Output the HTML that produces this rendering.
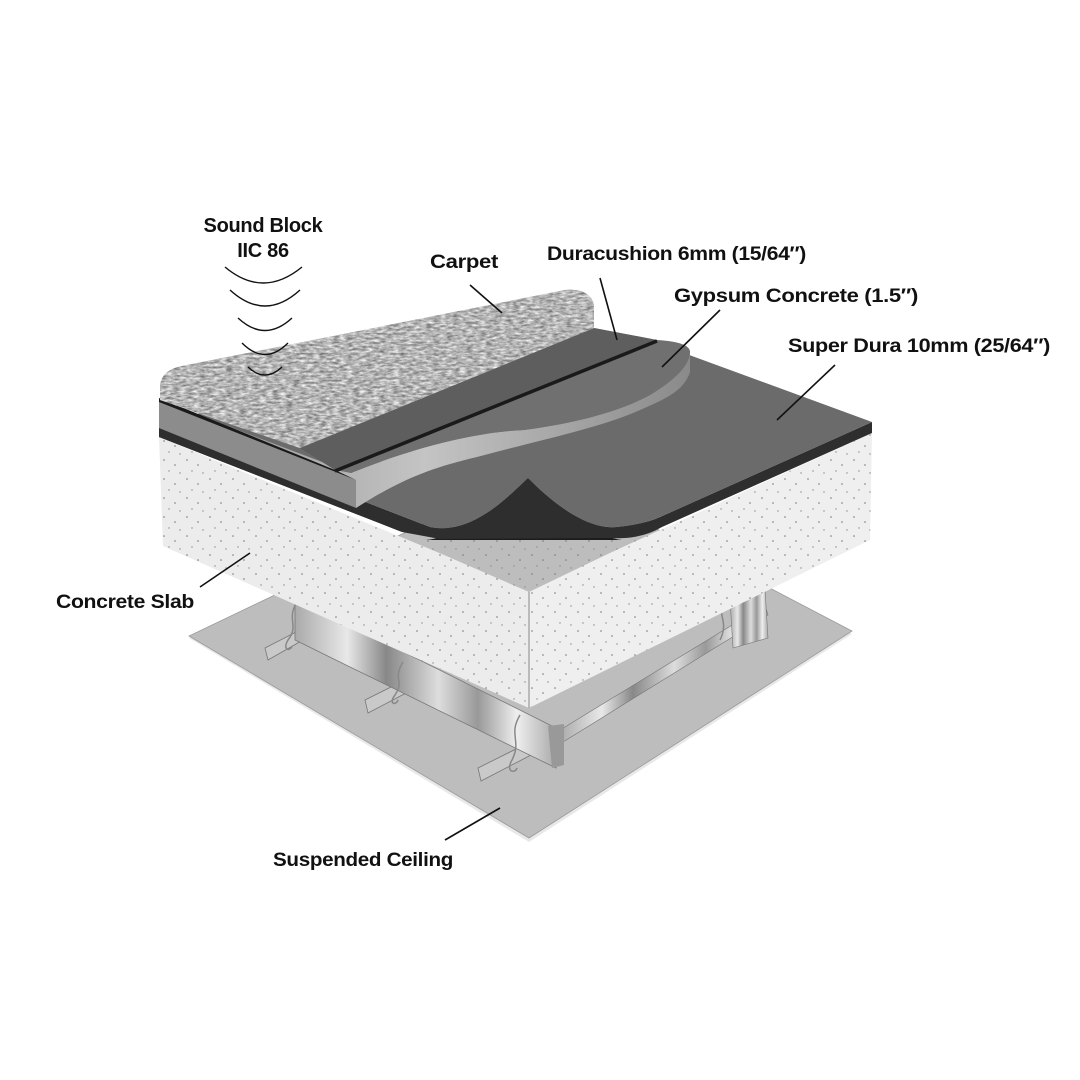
<!DOCTYPE html>
<html><head><meta charset="utf-8"><style>
html,body{margin:0;padding:0;background:#fff}
svg{display:block}
text{font-family:"Liberation Sans",sans-serif;font-weight:bold;font-size:19px;fill:#111;letter-spacing:-0.3px}
</style></head><body>
<svg width="1080" height="1080" viewBox="0 0 1080 1080" xmlns="http://www.w3.org/2000/svg">
<defs>
<pattern id="dots" width="23" height="19" patternUnits="userSpaceOnUse">
<circle cx="3" cy="4" r="0.8" fill="#777"/><circle cx="14" cy="9" r="0.8" fill="#777"/><circle cx="8" cy="15" r="0.7" fill="#888"/><circle cx="19" cy="17" r="0.7" fill="#888"/>
</pattern>
<filter id="fuzz" x="0" y="0" width="1" height="1" color-interpolation-filters="sRGB">
<feTurbulence type="fractalNoise" baseFrequency="0.15 0.45" numOctaves="4" seed="4"/>
<feColorMatrix type="matrix" values="0.75 0 0 0 0.33  0.75 0 0 0 0.33  0.75 0 0 0 0.33  0 0 0 0 1"/>
<feComposite in2="SourceGraphic" operator="in"/>
</filter>
<linearGradient id="steel" x1="0" y1="0" x2="1" y2="0">
<stop offset="0" stop-color="#aaa"/><stop offset="0.2" stop-color="#e8e8e8"/><stop offset="0.35" stop-color="#888"/><stop offset="0.55" stop-color="#ddd"/><stop offset="0.7" stop-color="#999"/><stop offset="0.85" stop-color="#eee"/><stop offset="1" stop-color="#aaa"/>
</linearGradient>
<linearGradient id="gyps" x1="0" y1="0" x2="1" y2="0">
<stop offset="0" stop-color="#8e8e8e"/><stop offset="0.5" stop-color="#c4c4c4"/><stop offset="1" stop-color="#8a8a8a"/>
</linearGradient>
</defs>

<polygon points="189,638 529,842 852,634 540,470" fill="#e8e8e8"/>
<polygon points="189,636 529,838 852,631 540,468" fill="#bdbdbd" stroke="#999" stroke-width="0.8"/>

<polygon points="560,730 765,605 768,615 563,742" fill="url(#steel)" stroke="#777" stroke-width="0.6"/>
<polygon points="730,600 765,590 768,638 733,648" fill="url(#steel)" stroke="#777" stroke-width="0.6"/>
<polygon points="265,648 300,630 303,640 268,660" fill="#c9c9c9" stroke="#777" stroke-width="0.8"/>
<polygon points="365,700 405,680 408,692 368,713" fill="#c9c9c9" stroke="#777" stroke-width="0.8"/>
<polygon points="478,768 530,742 533,754 481,781" fill="#c9c9c9" stroke="#777" stroke-width="0.8"/>
<polygon points="295,598 556,728 556,768 295,640" fill="url(#steel)" stroke="#777" stroke-width="0.8"/>
<polygon points="548,726 564,724 564,765 552,768" fill="#999"/>
<g fill="none" stroke="#888" stroke-width="1.5">
<path d="M298,600 C285,620 300,625 288,640 C282,650 290,652 292,646"/>
<path d="M403,662 C392,680 405,680 395,695 C388,704 396,706 398,700"/>
<path d="M520,715 C508,735 522,740 512,760 C505,772 515,774 517,768"/>
<path d="M725,600 C715,615 730,620 720,640"/>
</g>

<polygon points="159,437 529,590 529,708 163,546" fill="#ececec"/>
<polygon points="159,437 529,590 529,708 163,546" fill="url(#dots)"/>
<polygon points="529,590 872,433 870,540 529,708" fill="#efefef"/>
<polygon points="529,590 872,433 870,540 529,708" fill="url(#dots)"/>
<line x1="529" y1="590" x2="529" y2="708" stroke="#888" stroke-width="1"/>
<polygon points="405,538 645,536 529,592" fill="#bdbdbd"/>
<polygon points="405,538 645,536 529,592" fill="url(#dots)"/>

<path d="M528,478 C505,500 470,535 426,540 L622,540 C585,535 550,500 528,478 Z" fill="#1c1c1c"/>

<path d="M159,422 L430,527 C470,535 505,500 528,478 C550,500 585,530 617,527 Q645,524 660,517 L872,422 L872,433 L662,527 Q640,540 610,538 L440,539 L402,532 L159,437 Z" fill="#2e2e2e"/>
<path d="M159,422 L594,330 L662,345 L872,422 L660,517 Q645,524 617,527 C585,530 550,500 528,478 C505,500 470,535 430,527 Z" fill="#6b6b6b"/>

<path d="M159,400 L351,473 C420,445 480,432 524,430 C570,424 617,413 650,395 C675,380 690,365 690,350 L690,372 C684,390 668,398 640,410 C600,428 540,440 477,457 C430,468 400,480 356,508 L159,430 Z" fill="url(#gyps)"/>
<path d="M300,448 L594,328 L657,340 Q690,342 690,352 C690,365 675,380 650,395 C617,413 570,424 524,430 C480,432 420,445 351,473 L335,470 Z" fill="#707070"/>
<polygon points="159,400 356,480 356,508 159,430" fill="#8c8c8c"/>
<polygon points="159,428 356,508 402,532 159,437" fill="#2e2e2e"/>

<polygon points="300,448 594,328 657,340 335,470" fill="#5e5e5e"/>
<line x1="657" y1="341" x2="335" y2="471" stroke="#1a1a1a" stroke-width="3.5"/>
<polygon points="159,398 335,470 356,480 159,402" fill="#1a1a1a"/>

<path d="M160,400 L160,385 Q162,370 182,366 L565,290 Q590,288 594,305 L594,328 L300,448 Z" fill="#b4b4b4"/>
<path d="M160,400 L160,385 Q162,370 182,366 L565,290 Q590,288 594,305 L594,328 L300,448 Z" fill="#b4b4b4" filter="url(#fuzz)"/>

<g fill="none" stroke="#111" stroke-width="1.4">
<path d="M225,267 Q263,299 302,267"/>
<path d="M230,290 Q265,322 300,290"/>
<path d="M238,318 Q265,343 292,318"/>
<path d="M242,343 Q265,366 288,343"/>
<path d="M248,367 Q265,383 282,367"/>
</g>

<g stroke="#111" stroke-width="1.6">
<line x1="470" y1="285" x2="502" y2="313"/>
<line x1="600" y1="278" x2="617" y2="340"/>
<line x1="720" y1="310" x2="662" y2="367"/>
<line x1="835" y1="365" x2="777" y2="420"/>
<line x1="200" y1="587" x2="250" y2="553"/>
<line x1="445" y1="840" x2="500" y2="808"/>
</g>

<text x="263" y="232" text-anchor="middle" style="font-size:20px">Sound Block</text>
<text x="263" y="257" text-anchor="middle" style="font-size:20px">IIC 86</text>
<text x="430" y="268" textLength="68" lengthAdjust="spacingAndGlyphs">Carpet</text>
<text x="547" y="260" textLength="259" lengthAdjust="spacingAndGlyphs">Duracushion 6mm (15/64″)</text>
<text x="674" y="302" textLength="244" lengthAdjust="spacingAndGlyphs">Gypsum Concrete (1.5″)</text>
<text x="788" y="352" textLength="262" lengthAdjust="spacingAndGlyphs">Super Dura 10mm (25/64″)</text>
<text x="56" y="608" textLength="138" lengthAdjust="spacingAndGlyphs">Concrete Slab</text>
<text x="273" y="866" textLength="180" lengthAdjust="spacingAndGlyphs">Suspended Ceiling</text>
</svg>
</body></html>
